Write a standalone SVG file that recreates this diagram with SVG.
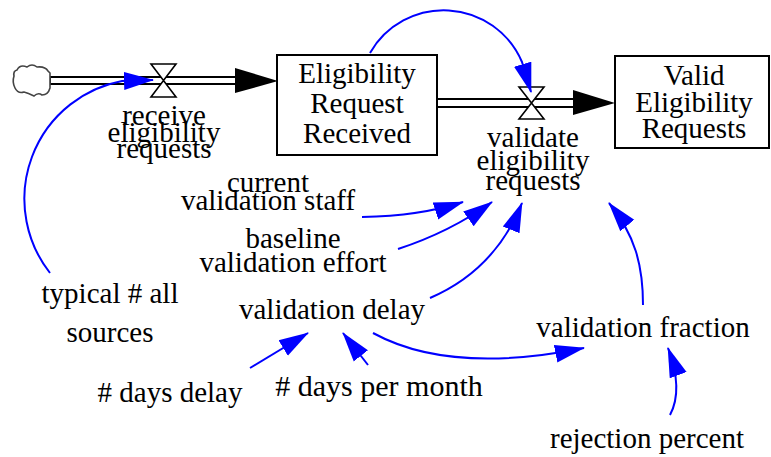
<svg xmlns="http://www.w3.org/2000/svg" width="771" height="457" viewBox="0 0 771 457">
  <style>
    text { font-family: "Liberation Serif", "Times New Roman", serif; font-size: 29px; fill: #000; text-anchor: middle; }
    .stock-label { font-size: 29px; }
    .stock { fill: #fff; stroke: #000; stroke-width: 2; }
    .pipe { fill: #fff; stroke: #000; stroke-width: 2; }
    .pipe-head { fill: #000; stroke: none; }
    .valve { fill: #fff; stroke: #000; stroke-width: 1.6; stroke-linejoin: miter; }
    .cloud { fill: #fff; stroke: #444; stroke-width: 1.6; }
    .link { fill: none; stroke: #0000ff; stroke-width: 2; marker-end: url(#arrow); }
  </style>
  <defs>
    <marker id="arrow" markerUnits="userSpaceOnUse" markerWidth="30" markerHeight="20" viewBox="0 0 30 20" refX="29" refY="10" orient="auto">
      <path d="M0,1 L30,10 L0,19 Z" fill="#0000ff"/>
    </marker>
  </defs>

  <rect width="771" height="457" fill="#fff"/>

  <!-- material flows: double-line pipes with solid heads -->
  <g id="flow-pipes">
    <rect class="pipe" x="50" y="77" width="187" height="7"/>
    <polygon class="pipe-head" points="235,68 278,81 235,93"/>
    <rect class="pipe" x="437" y="99" width="138" height="8"/>
    <polygon class="pipe-head" points="573,90 615,103 573,115"/>
  </g>

  <g id="source-cloud">
    <path class="cloud" d="M17,70 Q20,64 27,67 Q32,63 37,67 Q45,66 48,71 L50,73 L50,88 Q48,95 42,95 Q38,92 34,96 Q28,93 24,92 Q18,94 15,88 Q12,82 14,76 Q13,71 17,70 Z"/>
  </g>

  <g id="receive-eligibility-requests" font-family="Liberation Serif, serif">
    <path class="valve" d="M151,64 L176,64 L163.5,80.5 Z M151,97 L176,97 L163.5,80.5 Z"/>
    <text x="164" y="125">receive</text>
    <text x="164" y="142">eligibility</text>
    <text x="164" y="158">requests</text>
  </g>

  <g id="validate-eligibility-requests" font-family="Liberation Serif, serif">
    <path class="valve" d="M519,87 L544,87 L531.5,103 Z M519,119 L544,119 L531.5,103 Z"/>
    <text x="533" y="147">validate</text>
    <text x="533" y="170">eligibility</text>
    <text x="533" y="190">requests</text>
  </g>

  <g id="eligibility-request-received">
    <rect class="stock" x="277" y="55" width="160" height="100"/>
    <text class="stock-label" x="357" y="83">Eligibility</text>
    <text class="stock-label" x="357" y="113">Request</text>
    <text class="stock-label" x="357" y="143">Received</text>
  </g>

  <g id="valid-eligibility-requests">
    <rect class="stock" x="615" y="56" width="154" height="92"/>
    <text class="stock-label" x="694" y="85">Valid</text>
    <text class="stock-label" x="694" y="112">Eligibility</text>
    <text class="stock-label" x="694" y="138">Requests</text>
  </g>

  <g id="current-validation-staff">
    <text x="268" y="192">current</text>
    <text x="268" y="210">validation staff</text>
  </g>

  <g id="baseline-validation-effort">
    <text x="293" y="248">baseline</text>
    <text x="293" y="272">validation effort</text>
  </g>

  <g id="validation-delay">
    <text x="332" y="319">validation delay</text>
  </g>

  <g id="typical-all-sources">
    <text x="110" y="303">typical # all</text>
    <text x="110" y="342">sources</text>
  </g>

  <g id="days-delay">
    <text x="170" y="402"># days delay</text>
  </g>

  <g id="days-per-month">
    <text x="379" y="396" style="font-size:30px"># days per month</text>
  </g>

  <g id="validation-fraction">
    <text x="643" y="337">validation fraction</text>
  </g>

  <g id="rejection-percent">
    <text x="647" y="448">rejection percent</text>
  </g>

  <!-- information links -->
  <g id="links">
    <path class="link" d="M50,273 A120,120 0 0 1 122,81 L153,80"/>
    <path class="link" d="M370,53 A85,85 0 0 1 522,62 L531,92"/>
    <path class="link" d="M362,217 Q420,216 463,202"/>
    <path class="link" d="M398,249 Q450,232 492,202"/>
    <path class="link" d="M430,298 Q495,270 522,203"/>
    <path class="link" d="M643,305 C643,265 635,235 609,203"/>
    <path class="link" d="M373,333 Q450,375 584,348"/>
    <path class="link" d="M670,415 C678,400 680,380 668,348"/>
    <path class="link" d="M250,368 L308,333"/>
    <path class="link" d="M368,365 L343,333"/>
  </g>
</svg>
